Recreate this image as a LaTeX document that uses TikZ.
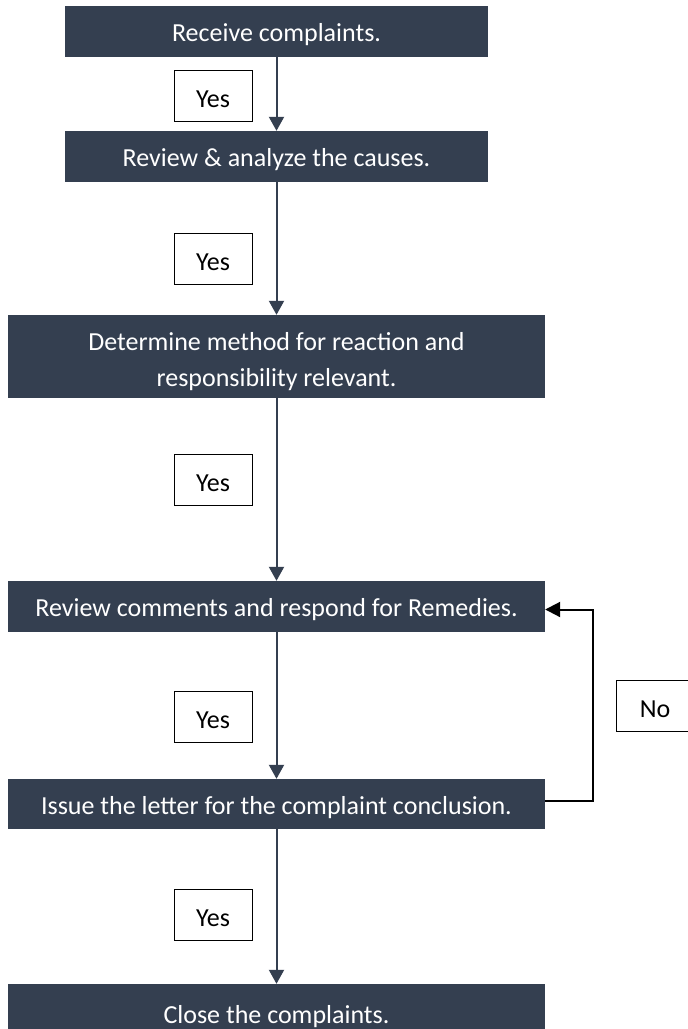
\documentclass[tikz,border=0pt]{standalone}
\usepackage{fontspec}
\setmainfont{Carlito}
\usepackage{tikz}
\usetikzlibrary{arrows.meta}
\definecolor{slate}{RGB}{52,63,80}

\begin{document}
\begin{tikzpicture}[x=1pt,y=-1pt,
  stage/.style={fill=slate,text=white,draw=none,inner sep=0pt,align=center,
    minimum width=537pt,minimum height=51pt,font=\fontsize{26}{36}\selectfont},
  oneline/.style={text height=24pt,text depth=4pt},
  answer/.style={draw=black,line width=1pt,fill=white,minimum width=78pt,minimum height=51pt,
    inner sep=0pt,font=\fontsize{26}{30}\selectfont,text height=26pt,text depth=3pt},
  flow/.style={draw=slate,line width=2pt,-{Triangle[width=15pt,length=14pt]}},
  back/.style={draw=black,line width=2pt,-{Triangle[width=15pt,length=15pt]}}]
\useasboundingbox[fill=white] (0,0) rectangle (688,1029);
\node[stage,oneline,minimum width=423pt] (recv) at (276.5,31.5) {Receive complaints.};
\node[stage,oneline,minimum width=423pt] (cause) at (276.5,156.5) {Review \& analyze the causes.};
\node[stage,minimum height=83pt] (method) at (276.5,356.5) {\rule{0pt}{28.5pt}Determine method for reaction and\\responsibility relevant.\rule[-5.5pt]{0pt}{5.5pt}};
\node[stage,oneline] (remedy) at (276.5,606.5) {Review comments and respond for Remedies.};
\node[stage,oneline,minimum height=50pt] (letter) at (276.5,804) {Issue the letter for the complaint conclusion.};
\node[stage,oneline,minimum height=58pt] (close) at (276.5,1013) {Close the complaints.};
\node[answer] (yes1) at (213,95.5) {Yes};
\node[answer] (yes2) at (213,259) {Yes};
\node[answer] (yes3) at (213,479.5) {Yes};
\node[answer] (yes4) at (213,716.5) {Yes};
\node[answer] (yes5) at (213,915) {Yes};
\node[answer] (no) at (655,705.5) {No};
\draw[flow] (recv) -- (cause);
\draw[flow] (cause) -- (method);
\draw[flow] (method) -- (remedy);
\draw[flow] (remedy) -- (letter);
\draw[flow] (letter) -- (close);
\draw[back] ([yshift=3pt]letter.east) -- ++(48,0) |- ([yshift=-3pt]remedy.east);
\end{tikzpicture}
\end{document}
